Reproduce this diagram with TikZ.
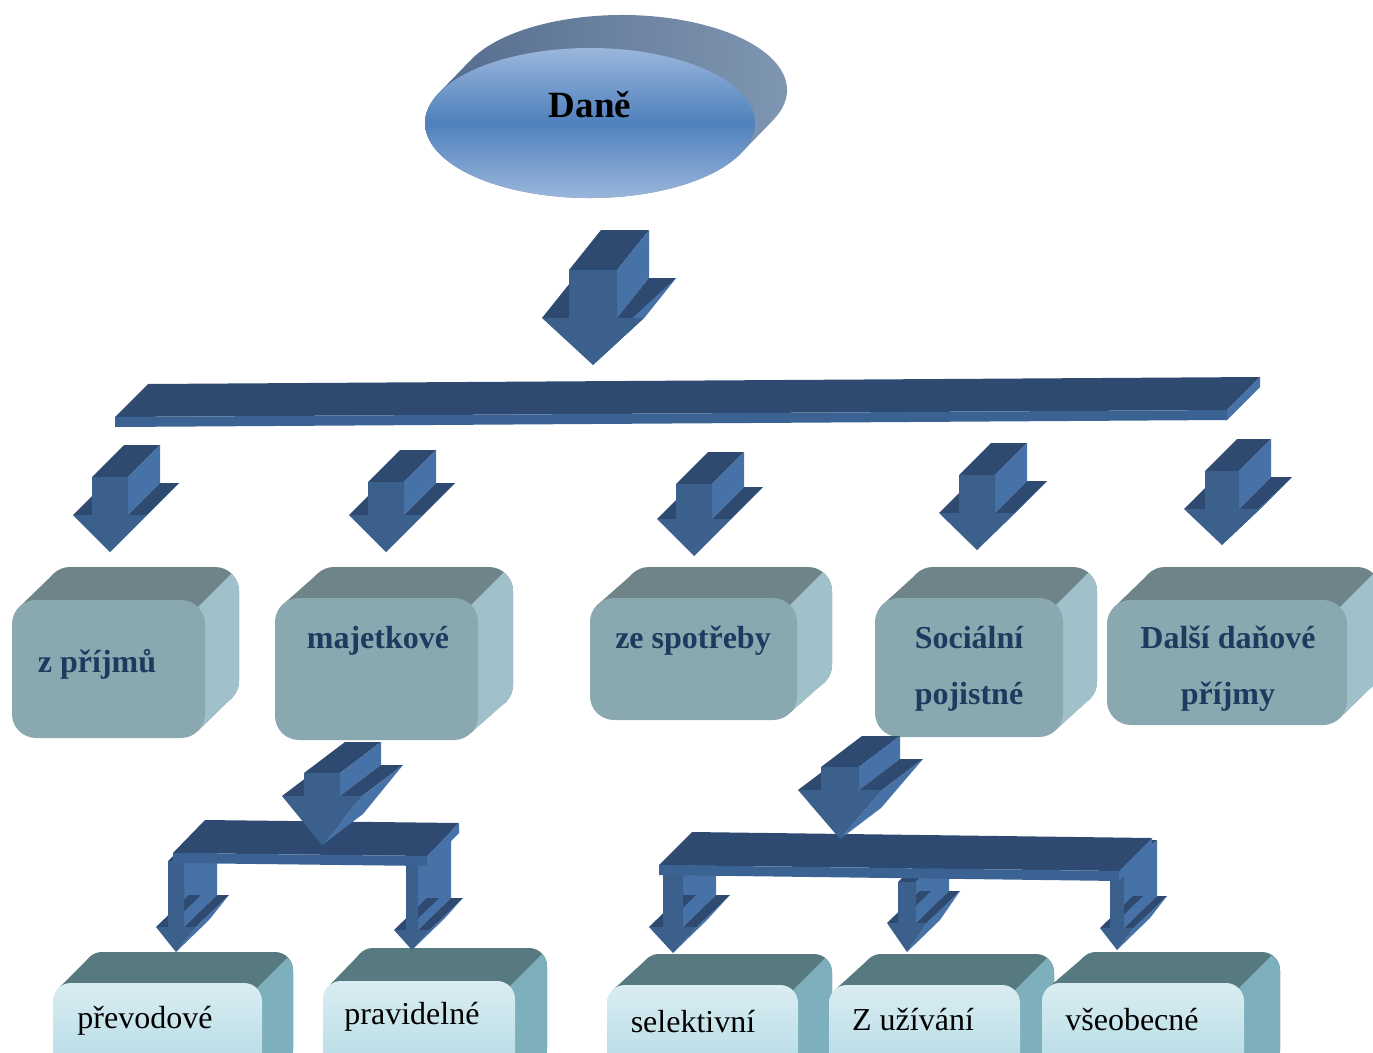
\documentclass[tikz,border=0pt]{standalone}
\usepackage{fontspec}
\setmainfont{Liberation Serif}
\usetikzlibrary{calc}

\definecolor{arrowfront}{HTML}{3B608C}
\definecolor{arrowtop}{HTML}{2E4A70}
\definecolor{arrowside}{HTML}{4672A8}
\definecolor{barfront}{HTML}{3A6394}
\definecolor{midfront}{HTML}{8AA8B0}
\definecolor{midtop}{HTML}{6E8488}
\definecolor{midside}{HTML}{A0C1C9}
\definecolor{midtext}{HTML}{1F3A5F}
\definecolor{lowtop}{HTML}{577A80}
\definecolor{lowside}{HTML}{7DAFBC}
\definecolor{lowlight}{HTML}{DAEDF2}
\definecolor{lowblue}{HTML}{A8D5E1}
\definecolor{danelight}{HTML}{9AB6DB}
\definecolor{danemid}{HTML}{4F81BD}
\definecolor{daneleft}{HTML}{52688A}
\definecolor{daneright}{HTML}{8299B4}

\tikzset{
  arrow top/.style={fill=arrowtop},
  arrow side/.style={fill=arrowside},
  arrow front/.style={fill=arrowfront},
  bar front/.style={fill=barfront},
  mid top/.style={fill=midtop},
  mid side/.style={fill=midside},
  mid front/.style={fill=midfront},
  low top/.style={fill=lowtop},
  low side/.style={fill=lowside},
  low front/.style={top color=lowlight, bottom color=lowblue},
  dane side/.style={left color=daneleft, right color=daneright},
  dane front/.style={top color=danelight, bottom color=danelight, middle color=danemid},
  dane text/.style={font=\fontsize{37}{44}\selectfont\bfseries, anchor=base, inner sep=0pt},
  mid text/.style={font=\fontsize{32}{38}\selectfont\bfseries, text=midtext, anchor=base, inner sep=0pt},
  low text/.style={font=\fontsize{32}{38}\selectfont, anchor=base, inner sep=0pt}
}

% 3D block arrow: tip x, tip y, head half width, head height, shaft half width, shaft length, depth x, depth up
\newcommand{\blockarrow}[8]{%
  \path[arrow top] (#1-#5,#2-#4-#6) -- ++(#7,-#8) -- ++(2*#5,0) -- (#1+#5,#2-#4-#6) -- cycle;
  \path[arrow side] (#1+#5,#2-#4-#6) -- ++(#7,-#8) -- ++(0,#6) -- (#1+#5,#2-#4) -- cycle;
  \path[arrow top] (#1+#5,#2-#4) -- ++(#7,-#8) -- ++(#3-#5,0) -- (#1+#3,#2-#4) -- cycle;
  \path[arrow side] (#1,#2) -- (#1+#3,#2-#4) -- ++(#7,-#8) -- ++(-#3,#4) -- cycle;
  \path[arrow top] (#1-#3,#2-#4) -- ++(#7,-#8) -- ++(#3-#5,0) -- (#1-#5,#2-#4) -- cycle;
  \path[arrow front] (#1-#5,#2-#4-#6) -- (#1+#5,#2-#4-#6) -- (#1+#5,#2-#4) -- (#1+#3,#2-#4)
    -- (#1,#2) -- (#1-#3,#2-#4) -- (#1-#5,#2-#4) -- cycle;
}

% flat bar: left x, left y, right x, right y, thickness, depth x, depth up
\newcommand{\flatbar}[7]{%
  \path[arrow top] (#1,#2) -- ++(#6,-#7) -- (#3+#6,#4-#7) -- (#3,#4) -- cycle;
  \path[arrow side] (#3,#4) -- (#3+#6,#4-#7) -- ++(0,#5) -- (#3,#4+#5) -- cycle;
  \path[bar front] (#1,#2) -- (#3,#4) -- (#3,#4+#5) -- (#1,#2+#5) -- cycle;
}

% rounded 3D box: kind, front corners x0 y0 x1 y1, depth x, depth up, radius
\newcommand{\solidbox}[8]{%
  \path[#1 top, rounded corners=#8pt] (#2+#6,#3-#7) rectangle (#4+#6,#5-#7);
  \path[#1 top] (#2+0.3*#8,#3+0.3*#8) -- ++(#6,-#7) -- (#4-0.3*#8+#6,#5-0.3*#8-#7) -- (#4-0.3*#8,#5-0.3*#8) -- cycle;
  \begin{scope}
    \clip (#4-0.3*#8-400,#3+0.3*#8+400) -- ++(800,-800) -- ++(400,400) -- ++(-800,800) -- cycle;
    \path[#1 side, rounded corners=#8pt] (#2+#6,#3-#7) rectangle (#4+#6,#5-#7);
    \path[#1 side] (#2+0.3*#8,#3+0.3*#8) -- ++(#6,-#7) -- (#4-0.3*#8+#6,#5-0.3*#8-#7) -- (#4-0.3*#8,#5-0.3*#8) -- cycle;
  \end{scope}
  \path[#1 front, rounded corners=#8pt] (#2,#3) rectangle (#4,#5);
}

\begin{document}
\begin{tikzpicture}[x=1pt, y=-1pt]
  \clip (0,0) rectangle (1373,1052);

  % Daně ellipse
  \coordinate (ellc) at (590,123);
  \coordinate (e1) at ($(ellc)+(203.8:165 and 75)$);
  \coordinate (e2) at ($(e1)+(32,-33)$);
  \coordinate (e4) at ($(ellc)+(23.8:165 and 75)$);
  \path[dane side] (e1) -- (e2) arc[start angle=203.8, end angle=383.8, x radius=165, y radius=75]
    -- (e4) arc[start angle=23.8, end angle=203.8, x radius=165, y radius=75] -- cycle;
  \path[dane front] (ellc) ellipse [x radius=165, y radius=75];
  \node[dane text] (dane) at (590,117) {Daně};

  % top arrow and main bar
  \blockarrow{593}{365}{51}{47}{24}{48}{32}{40}
  \flatbar{115}{417}{1227}{410}{10}{33}{33}

  % arrows to the five groups
  \blockarrow{110}{552}{37}{37}{18}{38}{32}{32}
  \blockarrow{386}{552}{37}{37}{18}{33}{32}{32}
  \blockarrow{694}{556}{37}{37}{18}{35}{32}{32}
  \blockarrow{977}{550}{38}{37}{18}{38}{32}{32}
  \blockarrow{1222}{545}{38}{36}{17}{38}{32}{32}

  % five groups
  \solidbox{mid}{12}{600}{205}{738}{34}{33}{24}
  \solidbox{mid}{275}{598}{478}{740}{35}{31}{24}
  \solidbox{mid}{590}{598}{797}{720}{35}{31}{24}
  \solidbox{mid}{875}{598}{1063}{737}{34}{31}{24}
  \solidbox{mid}{1107}{600}{1347}{725}{34}{33}{24}
  \node[mid text] (prijmy) at (97,672) {z příjmů};
  \node[mid text] (majetkove) at (378,648) {majetkové};
  \node[mid text] (spotreba) at (693,648) {ze spotřeby};
  \node[mid text] (socialni) at (969,648) {Sociální};
  \node[mid text] (pojistne) at (969,704) {pojistné};
  \node[mid text] (dalsi) at (1228,648) {Další daňové};
  \node[mid text] (dalsiprijmy) at (1228,704) {příjmy};

  % lower boxes
  \solidbox{low}{53}{983}{262}{1100}{31}{31}{18}
  \solidbox{low}{323}{981}{515}{1100}{32}{33}{18}
  \solidbox{low}{607}{985}{798}{1100}{34}{31}{18}
  \solidbox{low}{829}{985}{1020}{1100}{34}{31}{18}
  \solidbox{low}{1042}{983}{1244}{1100}{36}{31}{18}
  \node[low text] (prevodove) at (145,1028) {převodové};
  \node[low text] (pravidelne) at (412,1024) {pravidelné};
  \node[low text] (selektivni) at (693,1032) {selektivní};
  \node[low text] (uzivani) at (913,1030) {Z užívání};
  \node[low text] (vseobecne) at (1132,1030) {všeobecné};

  % majetkové branch
  \blockarrow{176}{952}{20}{25}{8}{66}{33}{32}
  \blockarrow{412}{950}{18}{20}{6}{72}{33}{32}
  \flatbar{173}{853}{427}{856}{10}{32}{33}
  \blockarrow{322}{845}{40}{49}{18}{23}{41}{31}

  % sociální branch
  \blockarrow{673}{953}{24}{26}{10}{60}{33}{32}
  \blockarrow{907}{952}{20}{29}{9}{41}{33}{32}
  \blockarrow{1117}{950}{17}{22}{7}{56}{33}{32}
  \flatbar{659}{865}{1119}{871}{10}{33}{33}
  \blockarrow{840}{839}{42}{49}{19}{23}{41}{31}
\end{tikzpicture}
\end{document}
